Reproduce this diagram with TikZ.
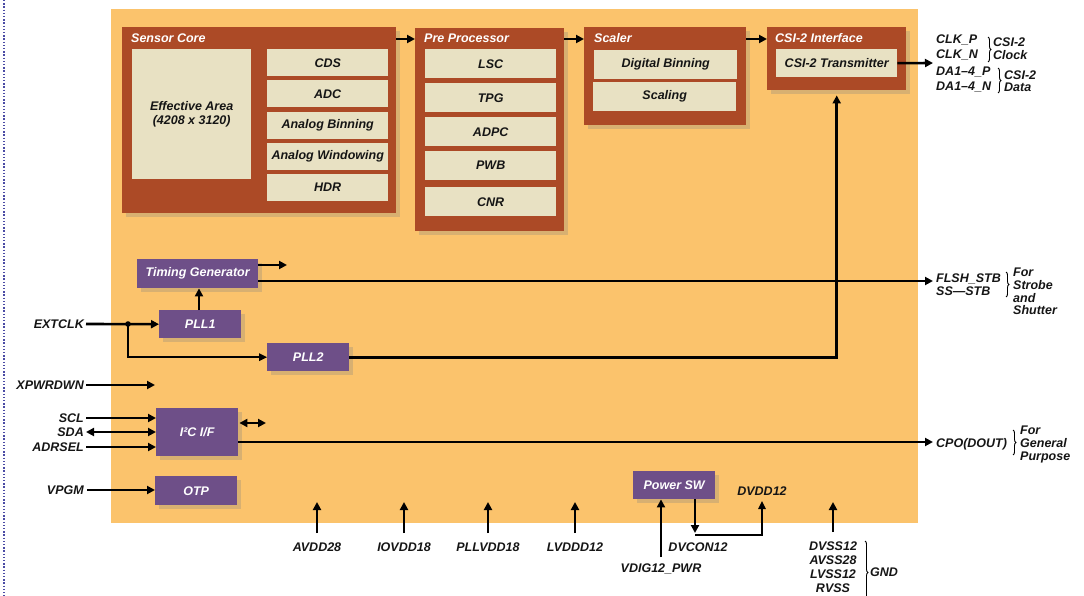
\documentclass[tikz,border=0pt]{standalone}
\usepackage{fontspec}
\setmainfont{Liberation Sans}
\usetikzlibrary{arrows.meta,shadows,decorations.pathreplacing,calc}
\definecolor{bgor}{HTML}{FBC36C}
\definecolor{brn}{HTML}{AC4A26}
\definecolor{crm}{HTML}{E8E1C3}
\definecolor{prp}{HTML}{6E4F88}
\definecolor{dotb}{HTML}{4B4BA5}
\definecolor{ink}{HTML}{151515}
\begin{document}
\begin{tikzpicture}[x=1pt,y=-1pt,
  lbl/.style={font=\fontsize{12.5}{13}\selectfont\bfseries\itshape, inner sep=0pt, text=ink},
  ttl/.style={font=\fontsize{12.5}{13}\selectfont\bfseries\itshape, inner sep=0pt, text=white, anchor=base west},
  shd/.style={drop shadow={opacity=0.28, shadow xshift=4pt, shadow yshift=-4pt}},
  brownbox/.style={fill=brn, draw=none, anchor=north west, shd},
  crmbox/.style={fill=crm, draw=none, anchor=north west, inner sep=0pt, text=ink,
    font=\fontsize{12.5}{14}\selectfont\bfseries\itshape, align=center},
  prpbox/.style={fill=prp, draw=none, anchor=north west, inner sep=0pt, text=white,
    font=\fontsize{12.5}{14}\selectfont\bfseries\itshape, shd},
  arr/.style={line width=2.6pt, -{Triangle[length=8pt,width=8pt]}},
  darr/.style={line width=2.6pt, {Triangle[length=8pt,width=8pt]}-{Triangle[length=8pt,width=8pt]}},
  thinarr/.style={line width=1.5pt, -{Triangle[length=8pt,width=7.5pt]}},
  brc/.style={line width=0.9pt, decorate, decoration={brace, amplitude=3pt}},
]
\useasboundingbox (0,0) rectangle (1084,596);
% dotted margin line
\draw[dotb, line width=2.2pt, dash pattern=on 1.4pt off 1.8pt] (4,0) -- (4,596);
% chip background
\fill[bgor] (111,9) rectangle (918,523);

% ---- Sensor Core
\node[brownbox, minimum width=274pt, minimum height=186pt] (sc) at (122,27) {};
\node[ttl] (sct) at (131,43) {Sensor Core};
\node[crmbox, minimum width=119pt, minimum height=130pt] (ea) at (132,49) {Effective Area\\(4208 x 3120)};
\node[crmbox, minimum width=121pt, minimum height=27pt] (cds) at (267,49) {CDS};
\node[crmbox, minimum width=121pt, minimum height=27pt] (adc) at (267,80) {ADC};
\node[crmbox, minimum width=121pt, minimum height=27pt] (abin) at (267,112) {Analog Binning};
\node[crmbox, minimum width=121pt, minimum height=27pt] (awin) at (267,143) {Analog Windowing};
\node[crmbox, minimum width=121pt, minimum height=27pt] (hdr) at (267,174) {HDR};

% ---- Pre Processor
\node[brownbox, minimum width=149pt, minimum height=203pt] (pp) at (415,28) {};
\node[ttl] (ppt) at (424,43) {Pre Processor};
\node[crmbox, minimum width=131pt, minimum height=29pt] (lsc) at (425,49) {LSC};
\node[crmbox, minimum width=131pt, minimum height=29pt] (tpg) at (425,83) {TPG};
\node[crmbox, minimum width=131pt, minimum height=29pt] (adpc) at (425,117) {ADPC};
\node[crmbox, minimum width=131pt, minimum height=29pt] (pwb) at (425,151) {PWB};
\node[crmbox, minimum width=131pt, minimum height=29pt] (cnr) at (425,187) {CNR};

% ---- Scaler
\node[brownbox, minimum width=162pt, minimum height=98pt] (scl) at (584,27) {};
\node[ttl] (sclt) at (594,43) {Scaler};
\node[crmbox, minimum width=143pt, minimum height=29pt] (dbin) at (594,50) {Digital Binning};
\node[crmbox, minimum width=143pt, minimum height=29pt] (scal) at (593,82) {Scaling};

% ---- CSI-2 Interface
\node[brownbox, minimum width=139pt, minimum height=63pt] (csi) at (767,27) {};
\node[ttl] (csit) at (775,43) {CSI-2 Interface};
\node[crmbox, minimum width=121pt, minimum height=28pt] (tx) at (776,49) {CSI-2 Transmitter};

% pipeline arrows
\draw[arr] ([yshift=-12pt]sc.north east) -- ([yshift=-11pt]pp.north west);
\draw[arr] ([yshift=-11pt]pp.north east) -- ([yshift=-12pt]scl.north west);
\draw[arr] ([yshift=-12pt]scl.north east) -- ([yshift=-12pt]csi.north west);

% CSI outputs
\coordinate (csiout) at (933,63);
\draw[arr] (tx.east) -- (csiout);
\node[lbl, anchor=base west] (clkp) at (936,44) {CLK\_P};
\node[lbl, anchor=base west] (clkn) at (936,59) {CLK\_N};
\node[lbl, anchor=base west] (dap) at (936,76) {DA1–4\_P};
\node[lbl, anchor=base west] (dan) at (936,91) {DA1–4\_N};
\draw[brc] (988,37) -- (988,62);
\draw[brc] (998,68) -- (998,93);
\node[lbl, anchor=base west] (c2a) at (993,47) {CSI-2};
\node[lbl, anchor=base west] (clk) at (993,60) {Clock};
\node[lbl, anchor=base west] (c2b) at (1004,80) {CSI-2};
\node[lbl, anchor=base west] (dat) at (1004,92) {Data};

% ---- Timing / PLL
\node[prpbox, minimum width=121pt, minimum height=29pt] (tg) at (137,259) {Timing Generator};
\node[prpbox, minimum width=82pt, minimum height=28pt] (pll1) at (159,310) {PLL1};
\node[prpbox, minimum width=82pt, minimum height=28pt] (pll2) at (267,343) {PLL2};
\coordinate (tgo) at (287,265);
\draw[arr] (tg.east |- tgo) -- (tgo);
\coordinate (fl) at (933,281);
\draw[arr] (tg.east |- fl) -- (fl);
\draw[arr] (pll1.north -| 199,0) -- (tg.south -| 199,0);
\node[lbl, anchor=base west] (flsh) at (936,282) {FLSH\_STB};
\node[lbl, anchor=base west] (ssstb) at (936,295) {SS—STB};
\draw[brc] (1006,272) -- (1006,297);
\node[lbl, anchor=north west, align=left, font=\fontsize{12.5}{12.6}\selectfont\bfseries\itshape] (fss) at (1013,268) {For\\Strobe\\and\\Shutter};

\node[lbl, anchor=east] (extclk) at (84,324) {EXTCLK};
\coordinate (ej) at (128,324);
\draw[arr] ([xshift=2pt]extclk.east) -- (pll1.west);
\fill (ej) circle (2.8pt);
\draw[thinarr] (ej) |- (pll2.west);
\draw[arr, shorten >=5pt] (pll2.east) -| (csi.south);

% ---- Control pins
\node[lbl, anchor=east] (xpw) at (84,385) {XPWRDWN};
\coordinate (xpwT) at (155,385);
\draw[arr] ([xshift=2pt]xpw.east) -- (xpwT);

\node[prpbox, minimum width=82pt, minimum height=48pt] (i2c) at (156,408) {I²C I/F};
\node[lbl, anchor=east] (sclp) at (84,418) {SCL};
\node[lbl, anchor=east] (sda) at (84,432) {SDA};
\node[lbl, anchor=east] (adr) at (84,447) {ADRSEL};
\draw[arr] ([xshift=2pt]sclp.east) -- (sclp.east -| i2c.west);
\draw[darr] ([xshift=2pt]sda.east) -- (sda.east -| i2c.west);
\draw[arr] ([xshift=2pt]adr.east) -- (adr.east -| i2c.west);
\coordinate (i2cR) at (266,423);
\draw[darr] ([xshift=1pt]i2c.east |- i2cR) -- (i2cR);
\node[lbl, anchor=base west] (cpo) at (936,447) {CPO(DOUT)};
\coordinate (cpoT) at (933,442);
\draw[arr] (i2c.east |- cpoT) -- (cpoT);
\draw[brc] (1013,430) -- (1013,455);
\node[lbl, anchor=north west, align=left, font=\fontsize{12.5}{12.6}\selectfont\bfseries\itshape] (fgp) at (1020,426) {For\\General\\Purpose};

\node[prpbox, minimum width=82pt, minimum height=29pt] (otp) at (155,476) {OTP};
\node[lbl, anchor=east] (vpgm) at (84,490) {VPGM};
\draw[arr] ([xshift=3pt]vpgm.east) -- (vpgm.east -| otp.west);

% ---- Supply pins
\node[lbl, anchor=base] (avdd) at (317,551) {AVDD28};
\node[lbl, anchor=base] (iovdd) at (404,551) {IOVDD18};
\node[lbl, anchor=base] (pllvdd) at (488,551) {PLLVDD18};
\node[lbl, anchor=base] (lvddd) at (575,551) {LVDDD12};
\coordinate (avddT) at (317,502);
\coordinate (iovddT) at (404,502);
\coordinate (pllvddT) at (488,502);
\coordinate (lvdddT) at (575,502);
\draw[arr] ([yshift=9pt]avdd.north) -- (avddT);
\draw[arr] ([yshift=9pt]iovdd.north) -- (iovddT);
\draw[arr] ([yshift=9pt]pllvdd.north) -- (pllvddT);
\draw[arr] ([yshift=9pt]lvddd.north) -- (lvdddT);

\node[prpbox, minimum width=82pt, minimum height=28pt] (pwsw) at (633,471) {Power SW};
\node[lbl, anchor=base] (vdig) at (661,572) {VDIG12\_PWR};
\draw[arr] ([yshift=6pt]vdig.north) -- (vdig.north |- pwsw.south);
\coordinate (dvc1) at (695,533);
\coordinate (dvc2) at (695,535);
\coordinate (dvdT) at (762,501);
\draw[arr] (pwsw.south -| dvc1) -- (dvc1);
\draw[thinarr] (dvc2) -| (dvdT);
\node[lbl, anchor=base] (dvdd) at (762,495) {DVDD12};
\node[lbl, anchor=base] (dvcon) at (698,551) {DVCON12};

\node[lbl, anchor=base] (dvss) at (833,550) {DVSS12};
\node[lbl, anchor=base] (avss) at (833,564) {AVSS28};
\node[lbl, anchor=base] (lvss) at (833,578) {LVSS12};
\node[lbl, anchor=base] (rvss) at (833,592) {RVSS};
\coordinate (dvssT) at (833,502);
\draw[arr] ([yshift=9pt]dvss.north) -- (dvssT);
\draw[brc] (865,541) -- (865,604);
\node[lbl, anchor=base west] (gnd) at (870,576) {GND};
\end{tikzpicture}
\end{document}
